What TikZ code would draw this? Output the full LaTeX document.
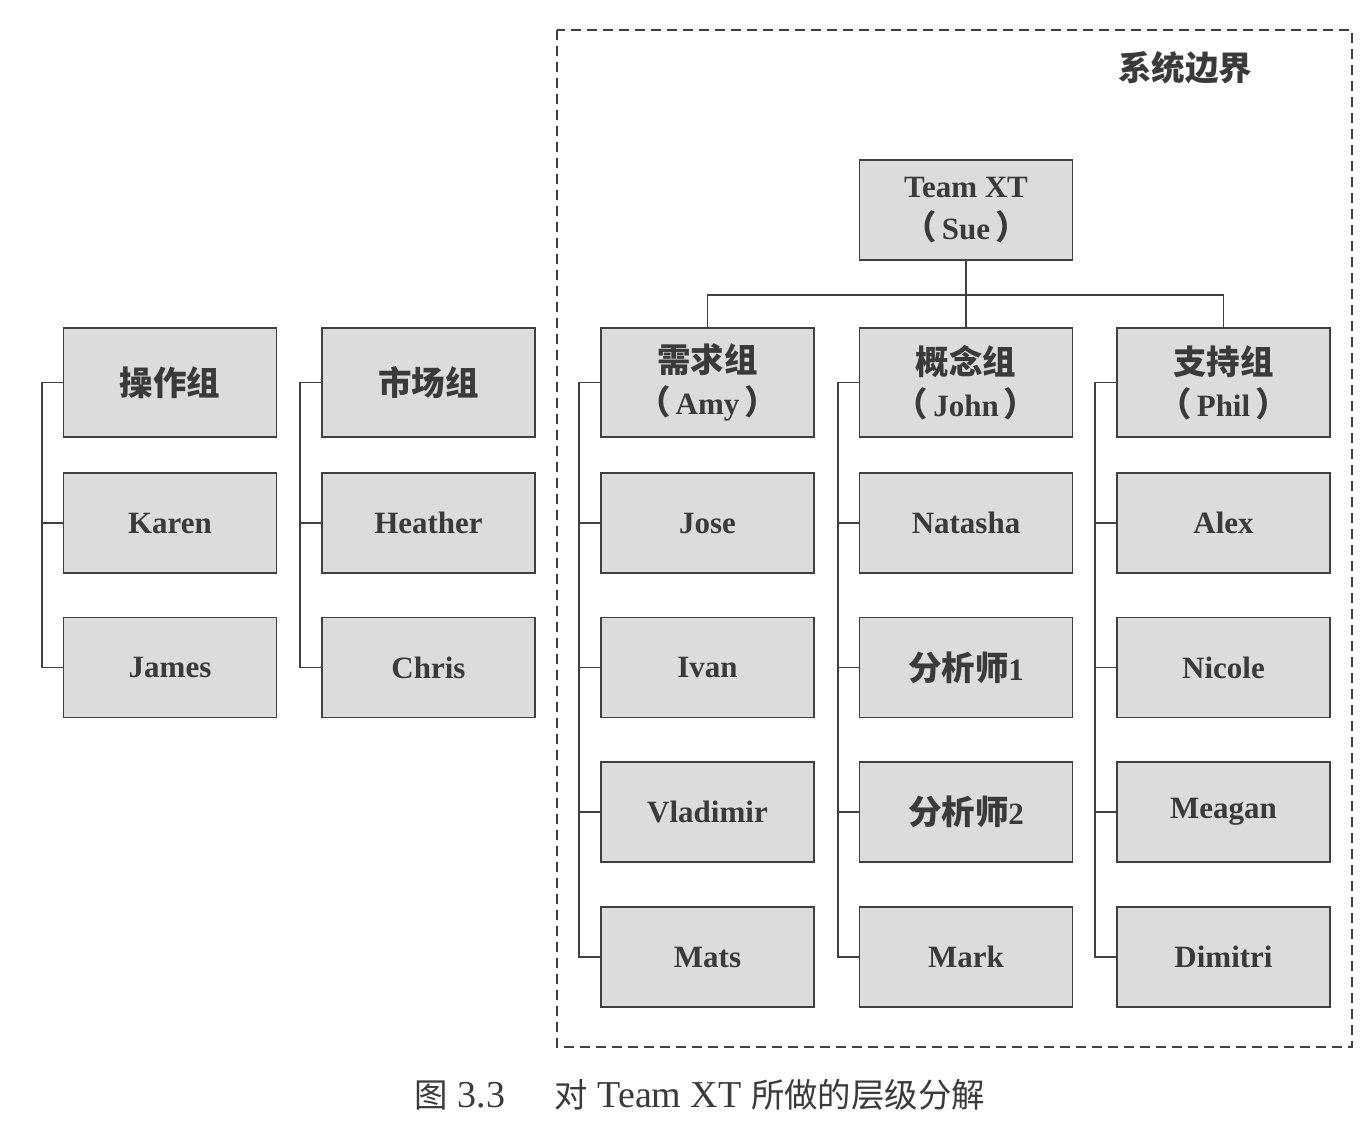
\documentclass[tikz,border=0pt]{standalone}
\usepackage{fontspec}
\setmainfont{Liberation Serif}
\newfontfamily\cjk{Noto Sans CJK SC}[Scale=1.08]
\newfontfamily\cjkcap{Noto Sans CJK SC}[Scale=0.88]
\usetikzlibrary{positioning}
\definecolor{boxgray}{HTML}{DCDCDC}
\definecolor{inkgray}{HTML}{3A3A3A}
\definecolor{linegray}{HTML}{404040}
\tikzset{
  member/.style={draw=linegray, line width=1.6pt, fill=boxgray,
    minimum width=213pt, minimum height=100pt, inner sep=0pt,
    text=inkgray, font=\fontsize{31}{42}\selectfont\bfseries, align=center},
  lead/.style={member, minimum height=109pt},
  link/.style={draw=linegray, line width=1.6pt},
  boundary/.style={draw=linegray, line width=2pt, dash pattern=on 10pt off 6pt}
}
\newcommand{\zh}[1]{{\cjk\bfseries #1}}
\newcommand{\who}[1]{\zh{（}\,#1\,\zh{）}}
\begin{document}
\begin{tikzpicture}[x=1pt,y=-1pt]
\useasboundingbox (0,0) rectangle (1372,1127);

% system boundary
\draw[boundary] (557,30) rectangle (1352,1047);
\node[text=inkgray, font=\fontsize{31}{34}\selectfont] (sb) at (1185,68) {\zh{系统边界}};

% top node
\node[member, minimum height=100pt] (top) at (966,210) {Team XT\\\who{Sue}};

% left groups (outside the boundary)
\node[lead] (a1) at (170,382.5) {\zh{操作组}};
\node[member] (a2) at (170,523) {Karen};
\node[member] (a3) at (170,667.5) {James};

\node[lead] (b1) at (428.5,382.5) {\zh{市场组}};
\node[member] (b2) at (428.5,523) {Heather};
\node[member] (b3) at (428.5,667.5) {Chris};

% teams inside the boundary
\node[lead] (c1) at (707.5,382.5) {\zh{需求组}\\\who{Amy}};
\node[member] (c2) at (707.5,523) {Jose};
\node[member] (c3) at (707.5,667.5) {Ivan};
\node[member] (c4) at (707.5,812) {Vladimir};
\node[member] (c5) at (707.5,957) {Mats};

\node[lead] (d1) at (966,382.5) {\zh{概念组}\\\who{John}};
\node[member] (d2) at (966,523) {Natasha};
\node[member] (d3) at (966,667.5) {\zh{分析师}1};
\node[member] (d4) at (966,812) {\zh{分析师}2};
\node[member] (d5) at (966,957) {Mark};

\node[lead] (e1) at (1223.5,382.5) {\zh{支持组}\\\who{Phil}};
\node[member] (e2) at (1223.5,523) {Alex};
\node[member] (e3) at (1223.5,667.5) {Nicole};
\node[member] (e4) at (1223.5,812) {Meagan};
\node[member] (e5) at (1223.5,957) {Dimitri};

% tree from the top node
\coordinate (bus) at (966,295);
\draw[link] (top.south) -- (d1.north);
\draw[link] (c1.north) |- (bus) -| (e1.north);

% side brackets
\foreach \g/\n in {a/3,b/3,c/5,d/5,e/5}{
  \draw[link] (\g1.west) -- ++(-21,0) |- (\g\n.west);
  \foreach \k in {2,...,\n}{
    \draw[link] (\g\k.west) -- ++(-21,0);
  }
}

% caption
\node[text=inkgray, font=\fontsize{38}{40}\selectfont, anchor=center] (cap) at (700,1095)
  {{\cjkcap 图} 3.3\hspace{1.3em}{\cjkcap 对} Team XT {\cjkcap 所做的层级分解}};
\end{tikzpicture}
\end{document}
